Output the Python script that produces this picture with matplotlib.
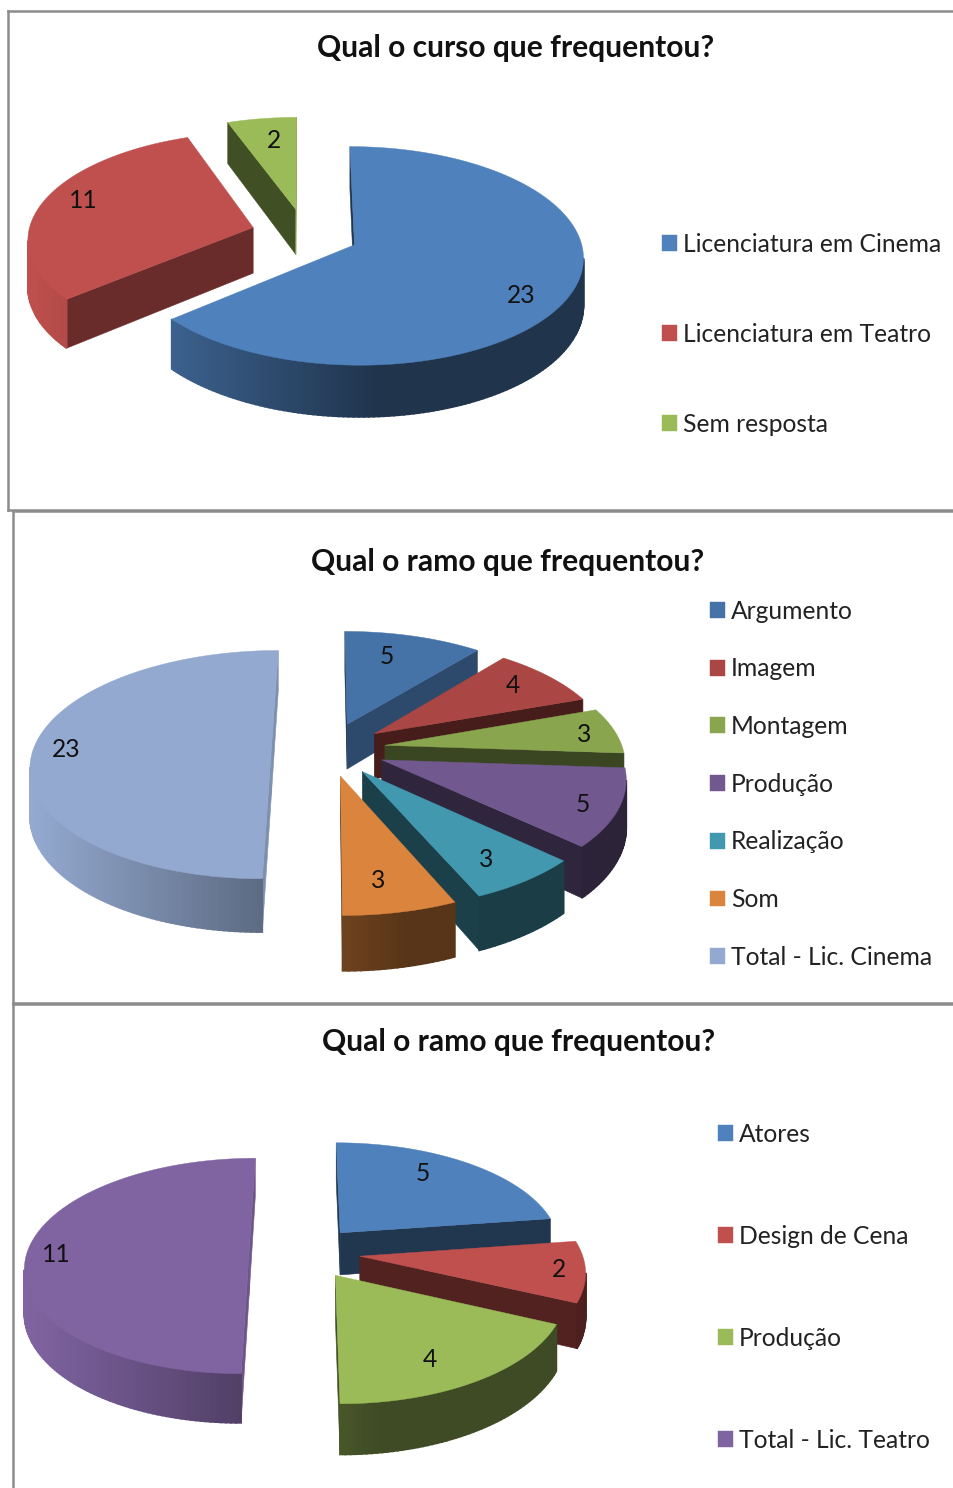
import numpy as np
import matplotlib
matplotlib.use("Agg")
import matplotlib.pyplot as plt
from matplotlib.patches import Polygon, Patch

# ---- data ----
course_title = "Qual o curso que frequentou?"
course_labels = ["Licenciatura em Cinema", "Licenciatura em Teatro", "Sem resposta"]
course_values = [23, 11, 2]

cinema_title = "Qual o ramo que frequentou?"
cinema_labels = ["Argumento", "Imagem", "Montagem", "Produção", "Realização", "Som", "Total - Lic. Cinema"]
cinema_values = [5, 4, 3, 5, 3, 3, 23]

theatre_title = "Qual o ramo que frequentou?"
theatre_labels = ["Atores", "Design de Cena", "Produção", "Total - Lic. Teatro"]
theatre_values = [5, 2, 4, 11]

# ---- styles ----
course_colors = ["#4F81BD", "#C0504D", "#9BBB59"]
cinema_colors = ["#4572A7", "#AA4643", "#89A54E", "#71588F", "#4198AF", "#DB843D", "#93A9CF"]
theatre_colors = ["#4F81BD", "#C0504D", "#9BBB59", "#8064A2"]

W, H = 954, 1488
FONT = ["Lato", "DejaVu Sans"]
LABEL_PT = 17.7
TITLE_PT = 21.6
FRAME = "#8c8c8c"
plt.rcParams["font.family"] = FONT

fig = plt.figure(figsize=(W / 100, H / 100), dpi=100, facecolor="white")


def shade(color, f):
    return tuple(min(1, c * f) for c in matplotlib.colors.to_rgb(color))


def panel(l, t, r, b, hide):
    ax = fig.add_axes([l / W, 1 - b / H, (r - l) / W, (b - t) / H])
    ax.set_xlim(l, r)
    ax.set_ylim(b, t)
    ax.set_xticks([])
    ax.set_yticks([])
    for name, s in ax.spines.items():
        s.set_color(FRAME)
        s.set_linewidth(1.8)
        s.set_visible(name not in hide)
    ax.patch.set_alpha(0)
    return ax


def face_shade(normal_deg):
    n = normal_deg % 360
    return float(np.clip(0.63 - 0.0085 * (n - 131), 0.42, 0.85))


def pie3d(ax, values, colors, cx, cy, rx, ry, k, depth, explode, label_f, nudges):
    values = np.asarray(values, float)
    edges = np.concatenate([[0], np.cumsum(values)]) / values.sum() * 2 * np.pi
    mids = (edges[:-1] + edges[1:]) / 2

    def project(u, v):
        s = 1 / (1 + k * v)
        return cx + rx * u * s, cy - ry * v * s, depth * s

    xl = cx - rx * (1 + explode)
    xr = cx + rx * (1 + explode)
    order = np.argsort(-np.cos(mids))
    for i in order:
        a0, a1, m = edges[i], edges[i + 1], mids[i]
        ou, ov = explode * np.sin(m), explode * np.cos(m)
        th = np.linspace(a0, a1, max(8, int((a1 - a0) / 0.02)))
        xs, ys, ds = project(ou + np.sin(th), ov + np.cos(th))
        ax0, ay0, ad0 = project(ou, ov)
        col = colors[i]
        # flat cut faces: from apex to start edge and from end edge to apex
        for (x1, y1, d1, x2, y2, d2, n) in (
            (ax0, ay0, ad0, xs[0], ys[0], ds[0], np.degrees(a0) - 90),
            (xs[-1], ys[-1], ds[-1], ax0, ay0, ad0, np.degrees(a1) + 90),
        ):
            if x2 - x1 < 0:
                c = shade(col, face_shade(n))
                ax.add_patch(Polygon([(x1, y1), (x2, y2), (x2, y2 + d2), (x1, y1 + d1)],
                                     closed=True, fc=c, ec=c, lw=0.4))
        # curved outer wall with left-to-right gradient
        for j in range(len(th) - 1):
            if xs[j + 1] - xs[j] < 0:
                t = ((xs[j] + xs[j + 1]) / 2 - xl) / (xr - xl)
                f = max(0.4, 1.0 - 0.95 * t)
                c = shade(col, f)
                ax.add_patch(Polygon([(xs[j], ys[j]), (xs[j + 1], ys[j + 1]),
                                      (xs[j + 1], ys[j + 1] + ds[j + 1]), (xs[j], ys[j] + ds[j])],
                                     closed=True, fc=c, ec=c, lw=1.2))
        ax.add_patch(Polygon(np.column_stack([np.r_[ax0, xs], np.r_[ay0, ys]]),
                             closed=True, fc=col, ec=col, lw=0.3))
        lx, ly, _ = project(ou + label_f * np.sin(m), ov + label_f * np.cos(m))
        ax.text(lx + nudges[i][0], ly + nudges[i][1], f"{values[i]:.0f}", ha="center", va="center",
                fontsize=LABEL_PT, color="#111111", zorder=5)


def legend(ax, labels, colors, x, y_first, step):
    fpx = LABEL_PT * 100 / 72
    handles = [Patch(fc=c, ec=c, lw=0.3, label=l) for c, l in zip(colors, labels)]
    ax.legend(handles=handles, loc="center left",
              bbox_to_anchor=(x, y_first + 1.2 + step * (len(labels) - 1) / 2),
              bbox_transform=ax.transData, frameon=False, borderpad=0, borderaxespad=0,
              fontsize=LABEL_PT, handlelength=15 / fpx, handleheight=15 / fpx,
              handletextpad=6 / fpx, labelspacing=(step - fpx * 0.935) / fpx,
              labelcolor="#222222")


def title(ax, text, cx, cy, l, t, r, b):
    ax.set_title(text, x=(cx - l) / (r - l), y=(b - cy) / (b - t), va="center",
                 pad=0, fontsize=TITLE_PT, fontweight="bold", color="#111111")


# panel 1
box = (8, 11, 960, 510)
a1 = panel(*box, hide=("right",))
title(a1, course_title, 516, 47.5, *box)
pie3d(a1, course_values, course_colors, 305, 234, 225, 106, 0.10, 46, 0.24, 0.74,
      [(8, 16), (-14, -7), (4, 0)])
legend(a1, course_labels, course_colors, 662, 243, 90)

# panel 2
box = (13, 511, 960, 1003)
a2 = panel(*box, hide=("right",))
title(a2, cinema_title, 508, 561.5, *box)
pie3d(a2, cinema_values, cinema_colors, 328.5, 749, 238, 112, 0.137, 46, 0.24, 0.72,
      [(-9.5, -2), (10.5, -6), (33, 0), (33, 10), (10, 12), (-4, 11), (-33.5, 1)])
legend(a2, cinema_labels, cinema_colors, 710, 610, 57.67)

# panel 3
box = (13, 1004, 960, 1495)
a3 = panel(*box, hide=("right", "bottom"))
title(a3, theatre_title, 519, 1041.5, *box)
pie3d(a3, theatre_values, theatre_colors, 304.6, 1252.4, 222, 106, 0.126, 43, 0.25, 0.74,
      [(-13, -6), (33, 2), (-7, 8), (-29, 2)])
legend(a3, theatre_labels, theatre_colors, 718, 1133, 102)

fig.savefig("out.png", dpi=100)
